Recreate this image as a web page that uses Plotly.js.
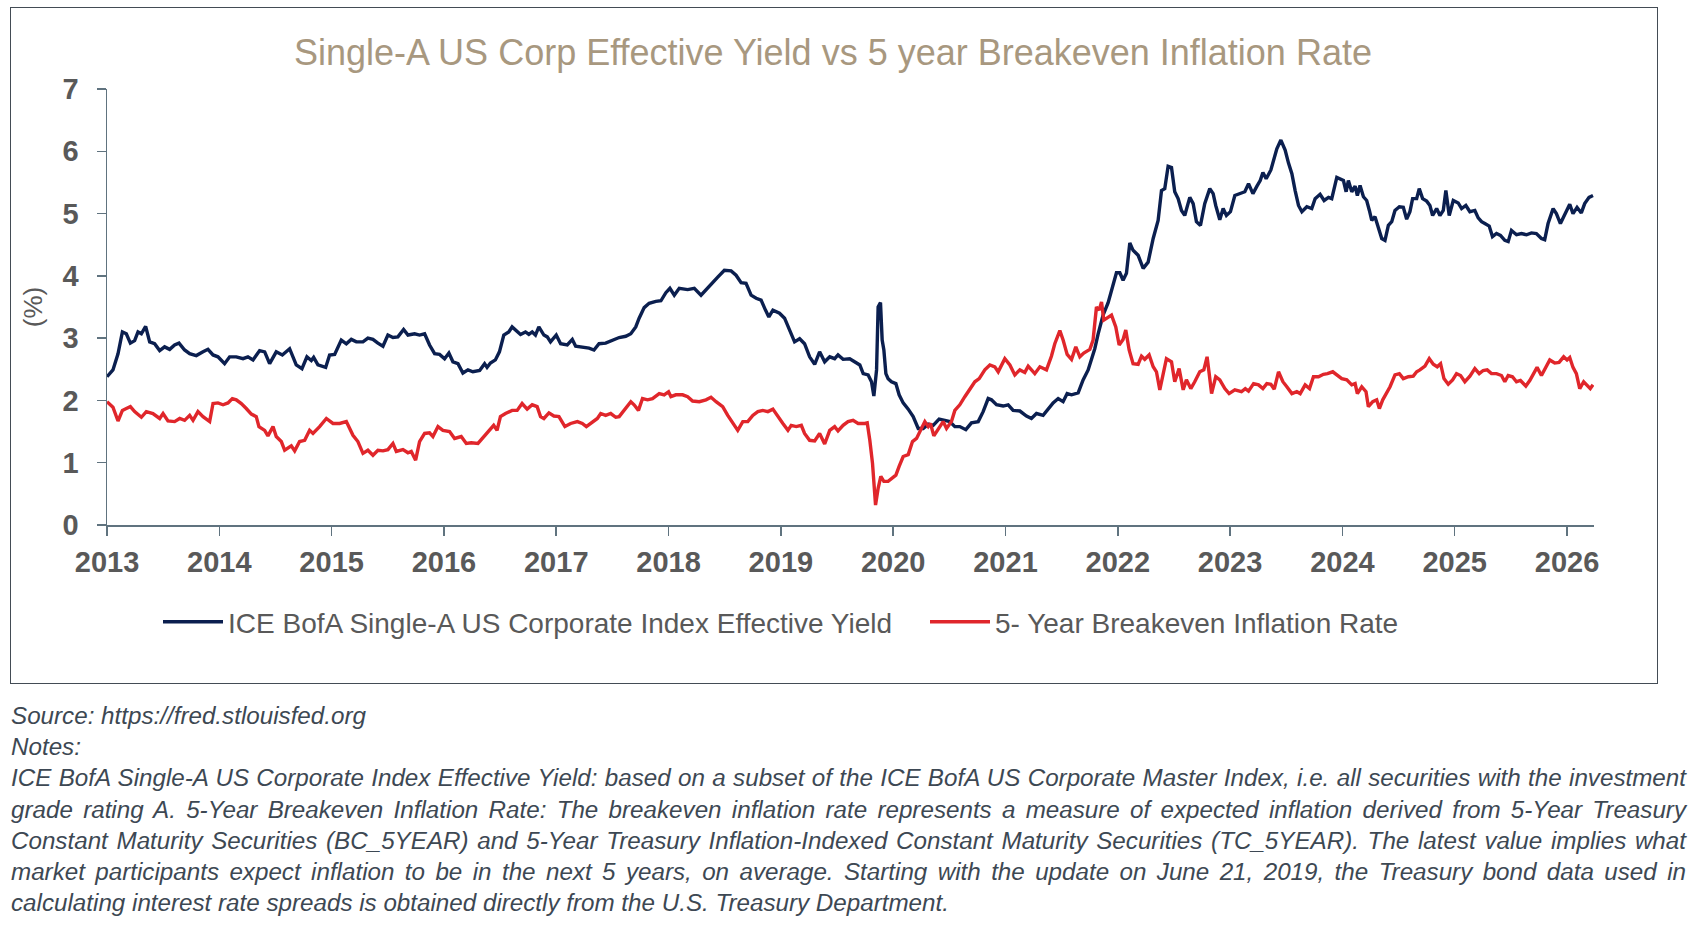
<!DOCTYPE html>
<html>
<head>
<meta charset="utf-8">
<script src="https://cdn.plot.ly/plotly-3.0.1.min.js"></script>
<style>
  html, body { margin: 0; padding: 0; background: #ffffff; }
  #page { position: relative; width: 1698px; height: 926px; overflow: hidden; background: #fff; }
  #frame { position: absolute; left: 10px; top: 7px; width: 1646px; height: 675px; border: 1.5px solid #434c55; box-sizing: content-box; }
  #chart { position: absolute; left: 0; top: 0; width: 1698px; height: 926px; }
  #notes { position: absolute; left: 11px; top: 700px; width: 1675px; font-family: "Liberation Sans", Arial, sans-serif; font-style: italic; font-size: 24.2px; line-height: 31.2px; color: #3d4853; }
  #notes .j { text-align: justify; text-align-last: justify; white-space: nowrap; }
  #notes .l { text-align: left; white-space: nowrap; }
</style>
</head>
<body>
<div id="page">
  <div id="frame"></div>
  <div id="chart"></div>
  <div id="notes"></div>
</div>
<script>
// ---- Data (decimal year, percent) ----
const yieldName = "ICE BofA Single-A US Corporate Index Effective Yield";
const beiName = "5- Year Breakeven Inflation Rate";
const chartTitle = "Single-A US Corp Effective Yield vs 5 year Breakeven Inflation Rate";
const yTitle = "(%)";
const yearTicks = [2013, 2014, 2015, 2016, 2017, 2018, 2019, 2020, 2021, 2022, 2023, 2024, 2025, 2026];
const yearLabels = ["2013", "2014", "2015", "2016", "2017", "2018", "2019", "2020", "2021", "2022", "2023", "2024", "2025", "2026"];

const yieldX = [
2013.000,2013.053,2013.098,2013.137,2013.172,2013.208,2013.246,2013.276,2013.306,2013.344,2013.380,2013.424,2013.469,2013.513,2013.558,2013.602,2013.641,2013.691,2013.736,2013.795,2013.855,2013.899,2013.944,2013.988,
2014.047,2014.092,2014.151,2014.211,2014.255,2014.300,2014.359,2014.404,2014.448,2014.507,2014.561,2014.626,2014.685,2014.736,2014.780,2014.819,2014.840,2014.878,2014.947,2014.982,
2015.027,2015.086,2015.131,2015.175,2015.220,2015.279,2015.323,2015.368,2015.412,2015.457,2015.501,2015.546,2015.590,2015.641,2015.680,2015.739,2015.783,2015.828,2015.872,2015.917,2015.961,
2016.006,2016.044,2016.080,2016.125,2016.169,2016.214,2016.258,2016.318,2016.362,2016.384,2016.414,2016.458,2016.494,2016.533,2016.577,2016.607,2016.652,2016.682,2016.726,2016.756,2016.786,2016.815,2016.845,2016.890,2016.920,2016.949,
2017.000,2017.039,2017.098,2017.143,2017.173,2017.232,2017.292,2017.336,2017.381,2017.440,2017.500,2017.560,2017.619,2017.664,2017.708,2017.738,2017.783,2017.827,2017.887,2017.932,2017.976,
2018.012,2018.051,2018.095,2018.170,2018.229,2018.289,2018.333,2018.393,2018.438,2018.497,2018.557,2018.601,2018.646,2018.690,2018.735,2018.780,2018.824,2018.863,2018.893,2018.929,2018.988,
2019.033,2019.077,2019.122,2019.167,2019.211,2019.256,2019.301,2019.345,2019.390,2019.435,2019.479,2019.509,2019.554,2019.613,2019.673,2019.703,2019.733,2019.777,2019.807,2019.828,2019.852,2019.866,2019.887,2019.902,2019.917,2019.935,2019.955,2019.985,
2020.024,2020.053,2020.089,2020.134,2020.178,2020.223,2020.267,2020.312,2020.356,2020.409,2020.460,2020.504,2020.549,2020.593,2020.647,2020.697,2020.757,2020.801,2020.846,2020.875,2020.920,2020.979,
2021.024,2021.068,2021.128,2021.187,2021.231,2021.276,2021.335,2021.380,2021.424,2021.469,2021.513,2021.549,2021.588,2021.647,2021.691,2021.736,2021.766,2021.795,2021.825,2021.869,2021.914,2021.958,2021.988,
2022.018,2022.047,2022.077,2022.107,2022.136,2022.181,2022.226,2022.270,2022.315,2022.359,2022.389,2022.418,2022.448,2022.478,2022.507,2022.537,2022.567,2022.596,2022.641,2022.671,2022.700,2022.736,2022.774,2022.819,2022.849,2022.872,2022.908,2022.938,2022.967,
2023.003,2023.042,2023.086,2023.131,2023.164,2023.203,2023.239,2023.268,2023.292,2023.321,2023.363,2023.387,2023.416,2023.452,2023.490,2023.520,2023.550,2023.579,2023.609,2023.639,2023.683,2023.727,2023.757,2023.801,2023.837,2023.876,2023.905,2023.950,2023.979,
2024.009,2024.033,2024.053,2024.083,2024.113,2024.133,2024.157,2024.187,2024.216,2024.240,2024.261,2024.290,2024.320,2024.350,2024.379,2024.409,2024.439,2024.468,2024.507,2024.542,2024.572,2024.601,2024.625,2024.661,2024.684,2024.714,2024.750,2024.779,2024.803,2024.839,2024.868,2024.898,2024.921,2024.951,2024.987,
2025.031,2025.061,2025.099,2025.135,2025.179,2025.209,2025.239,2025.268,2025.307,2025.336,2025.372,2025.407,2025.446,2025.476,2025.505,2025.550,2025.594,2025.639,2025.683,2025.727,2025.772,2025.801,2025.831,2025.876,2025.905,2025.941,2025.979,
2026.024,2026.053,2026.089,2026.127,2026.157,2026.196,2026.231
];
const yieldY = [
2.38,2.49,2.75,3.10,3.07,2.92,2.96,3.10,3.07,3.19,2.94,2.91,2.80,2.86,2.82,2.89,2.92,2.81,2.75,2.72,2.78,2.82,2.73,2.70,
2.59,2.70,2.70,2.67,2.70,2.65,2.80,2.78,2.59,2.78,2.73,2.83,2.57,2.51,2.70,2.64,2.69,2.57,2.53,2.73,
2.74,2.97,2.91,2.98,2.94,2.94,3.00,2.98,2.92,2.87,3.05,3.01,3.02,3.14,3.05,3.07,3.05,3.07,2.89,2.75,2.74,
2.67,2.76,2.62,2.59,2.44,2.49,2.46,2.48,2.59,2.53,2.60,2.65,2.78,3.05,3.10,3.18,3.10,3.06,3.10,3.06,3.10,3.05,3.18,3.05,3.02,2.94,
3.05,2.91,2.89,2.98,2.87,2.86,2.84,2.81,2.91,2.92,2.97,3.01,3.03,3.07,3.18,3.32,3.49,3.56,3.59,3.60,3.73,
3.80,3.69,3.80,3.78,3.80,3.69,3.77,3.89,3.98,4.09,4.08,4.01,3.89,3.88,3.69,3.64,3.61,3.45,3.34,3.45,3.40,
3.32,3.13,2.94,2.99,2.91,2.70,2.58,2.78,2.62,2.70,2.67,2.73,2.66,2.67,2.60,2.57,2.43,2.41,2.30,2.07,2.49,3.50,3.57,2.97,2.81,2.43,2.35,2.30,
2.27,2.09,1.96,1.86,1.74,1.55,1.55,1.62,1.60,1.70,1.68,1.66,1.58,1.58,1.53,1.64,1.66,1.82,2.03,2.01,1.93,1.91,
1.93,1.84,1.83,1.75,1.71,1.79,1.76,1.87,1.96,2.03,1.98,2.11,2.09,2.12,2.33,2.49,2.65,2.83,3.07,3.37,3.57,3.88,4.05,
4.05,3.93,4.04,4.53,4.41,4.33,4.12,4.22,4.60,4.89,5.37,5.40,5.76,5.74,5.35,5.24,5.05,4.97,5.26,5.16,4.87,4.81,5.16,5.40,5.32,5.13,4.90,5.08,4.97,
5.03,5.29,5.32,5.35,5.48,5.32,5.44,5.53,5.66,5.56,5.70,5.88,6.04,6.18,6.02,5.81,5.64,5.37,5.13,5.03,5.11,5.08,5.24,5.31,5.21,5.26,5.24,5.58,5.56,
5.53,5.35,5.53,5.35,5.44,5.29,5.45,5.27,5.21,5.05,4.89,4.95,4.79,4.60,4.57,4.81,4.87,5.05,5.11,5.10,4.91,5.03,5.24,5.24,5.40,5.24,5.20,5.13,4.97,5.08,4.97,5.05,5.37,4.97,5.21,
5.17,5.08,5.13,5.03,5.05,4.93,4.87,4.84,4.80,4.63,4.68,4.65,4.57,4.55,4.73,4.66,4.68,4.66,4.69,4.68,4.60,4.58,4.84,5.08,5.00,4.84,4.97,
5.15,5.00,5.10,5.01,5.16,5.26,5.29
];

const beiX = [
2013.000,2013.053,2013.098,2013.137,2013.172,2013.208,2013.246,2013.306,2013.350,2013.409,2013.469,2013.499,2013.543,2013.602,2013.647,2013.691,2013.736,2013.766,2013.810,2013.855,2013.914,2013.944,2013.988,
2014.033,2014.077,2014.116,2014.151,2014.196,2014.240,2014.285,2014.329,2014.353,2014.404,2014.433,2014.478,2014.507,2014.552,2014.582,2014.641,2014.671,2014.715,2014.760,2014.804,2014.834,2014.893,2014.953,
2015.012,2015.071,2015.131,2015.190,2015.234,2015.279,2015.323,2015.368,2015.412,2015.457,2015.501,2015.546,2015.576,2015.635,2015.680,2015.709,2015.748,2015.783,2015.828,2015.872,2015.902,2015.947,2015.991,
2016.050,2016.095,2016.154,2016.199,2016.243,2016.303,2016.354,2016.399,2016.443,2016.473,2016.503,2016.548,2016.577,2016.607,2016.652,2016.696,2016.741,2016.786,2016.830,2016.860,2016.890,2016.935,2016.979,
2017.024,2017.077,2017.128,2017.188,2017.232,2017.268,2017.321,2017.366,2017.396,2017.440,2017.485,2017.530,2017.560,2017.619,2017.664,2017.693,2017.732,2017.768,2017.813,2017.857,2017.917,2017.961,
2018.000,2018.021,2018.065,2018.125,2018.170,2018.214,2018.274,2018.333,2018.378,2018.423,2018.482,2018.527,2018.571,2018.616,2018.661,2018.705,2018.750,2018.795,2018.839,2018.884,2018.929,2018.973,
2019.018,2019.063,2019.092,2019.137,2019.182,2019.211,2019.256,2019.301,2019.345,2019.390,2019.435,2019.479,2019.509,2019.554,2019.598,2019.643,2019.688,2019.748,2019.769,2019.792,2019.816,2019.843,2019.866,2019.890,2019.917,2019.955,2019.985,
2020.024,2020.053,2020.089,2020.134,2020.172,2020.208,2020.243,2020.282,2020.312,2020.332,2020.362,2020.401,2020.445,2020.475,2020.519,2020.549,2020.593,2020.638,2020.682,2020.727,2020.766,2020.816,2020.861,2020.905,2020.935,2020.994,
2021.039,2021.083,2021.128,2021.172,2021.202,2021.261,2021.306,2021.365,2021.409,2021.439,2021.484,2021.513,2021.549,2021.588,2021.626,2021.662,2021.697,2021.751,2021.780,2021.810,2021.834,2021.855,2021.875,2021.914,2021.944,2021.982,
2022.012,2022.047,2022.071,2022.101,2022.136,2022.181,2022.211,2022.240,2022.279,2022.315,2022.344,2022.374,2022.404,2022.433,2022.478,2022.507,2022.546,2022.582,2022.611,2022.650,2022.685,2022.730,2022.766,2022.795,2022.813,2022.835,2022.872,2022.908,2022.953,2022.991,
2023.042,2023.101,2023.135,2023.164,2023.209,2023.253,2023.292,2023.327,2023.363,2023.393,2023.431,2023.470,2023.505,2023.550,2023.594,2023.624,2023.668,2023.707,2023.742,2023.787,2023.831,2023.867,2023.914,2023.956,2023.994,
2024.039,2024.083,2024.113,2024.133,2024.172,2024.210,2024.231,2024.270,2024.305,2024.329,2024.359,2024.394,2024.424,2024.468,2024.507,2024.542,2024.587,2024.631,2024.661,2024.690,2024.735,2024.773,2024.809,2024.844,2024.874,2024.904,2024.942,2024.981,
2025.016,2025.052,2025.090,2025.135,2025.179,2025.218,2025.253,2025.289,2025.327,2025.372,2025.416,2025.446,2025.476,2025.514,2025.550,2025.585,2025.633,2025.668,2025.704,2025.733,2025.772,2025.810,2025.846,2025.890,2025.929,2025.970,
2026.000,2026.024,2026.053,2026.083,2026.113,2026.148,2026.178,2026.207,2026.231
];
const beiY = [
1.98,1.89,1.67,1.84,1.87,1.90,1.82,1.73,1.82,1.79,1.71,1.79,1.67,1.66,1.71,1.68,1.76,1.68,1.82,1.74,1.66,1.95,1.96,
1.93,1.96,2.03,2.01,1.95,1.87,1.78,1.74,1.58,1.52,1.43,1.58,1.42,1.34,1.20,1.27,1.19,1.34,1.36,1.52,1.47,1.58,1.71,
1.63,1.63,1.66,1.44,1.34,1.15,1.20,1.12,1.20,1.19,1.21,1.31,1.18,1.21,1.16,1.18,1.04,1.34,1.47,1.48,1.42,1.58,1.52,
1.50,1.39,1.42,1.31,1.32,1.31,1.42,1.52,1.60,1.52,1.74,1.79,1.82,1.84,1.84,1.95,1.86,1.93,1.90,1.74,1.71,1.80,1.75,
1.74,1.58,1.63,1.66,1.63,1.58,1.66,1.71,1.79,1.76,1.79,1.73,1.74,1.87,1.98,1.93,1.84,2.03,2.01,2.03,2.11,2.09,
2.14,2.06,2.09,2.09,2.06,1.99,1.98,2.01,2.05,1.98,1.90,1.76,1.63,1.52,1.66,1.66,1.76,1.82,1.84,1.82,1.86,1.74,
1.63,1.52,1.60,1.58,1.60,1.47,1.36,1.35,1.47,1.30,1.52,1.58,1.51,1.60,1.66,1.68,1.63,1.63,1.64,1.36,0.99,0.32,0.59,0.78,0.70,0.70,0.75,
0.80,0.94,1.10,1.13,1.34,1.39,1.52,1.66,1.58,1.63,1.43,1.55,1.66,1.55,1.66,1.84,1.93,2.06,2.19,2.30,2.35,2.49,2.57,2.54,2.46,2.67,
2.57,2.41,2.49,2.45,2.55,2.43,2.54,2.49,2.71,2.91,3.12,2.97,2.74,2.66,2.86,2.70,2.76,2.82,2.97,3.50,3.45,3.58,3.29,3.33,3.37,3.18,
2.89,2.98,3.13,2.81,2.59,2.58,2.71,2.66,2.73,2.54,2.46,2.17,2.43,2.67,2.62,2.30,2.51,2.17,2.33,2.19,2.30,2.46,2.49,2.70,2.44,2.11,2.38,2.33,2.19,2.11,
2.17,2.14,2.19,2.15,2.27,2.25,2.19,2.27,2.26,2.18,2.46,2.30,2.22,2.11,2.14,2.11,2.25,2.19,2.38,2.38,2.42,2.43,2.46,2.41,2.35,
2.33,2.25,2.27,2.11,2.22,2.14,1.90,1.98,2.01,1.87,2.01,2.11,2.22,2.41,2.43,2.35,2.38,2.39,2.46,2.49,2.55,2.67,2.58,2.54,2.59,2.35,2.26,2.33,
2.43,2.40,2.30,2.39,2.51,2.43,2.48,2.49,2.43,2.43,2.40,2.30,2.40,2.38,2.30,2.32,2.23,2.32,2.43,2.53,2.40,2.53,2.65,2.60,2.61,2.70,
2.65,2.69,2.53,2.43,2.19,2.30,2.25,2.19,2.25
];

const sourceLine = "Source: https://fred.stlouisfed.org";
const notesLabel = "Notes:";
const noteLines = [
  "ICE BofA Single-A US Corporate Index Effective Yield: based on a subset of the ICE BofA US Corporate Master Index, i.e. all securities with the investment",
  "grade rating A. 5-Year Breakeven Inflation Rate: The breakeven inflation rate represents a measure of expected inflation derived from 5-Year Treasury",
  "Constant Maturity Securities (BC_5YEAR) and 5-Year Treasury Inflation-Indexed Constant Maturity Securities (TC_5YEAR). The latest value implies what",
  "market participants expect inflation to be in the next 5 years, on average. Starting with the update on June 21, 2019, the Treasury bond data used in",
  "calculating interest rate spreads is obtained directly from the U.S. Treasury Department."
];

// ---- Chart ----
const FONT = '"Liberation Sans", Arial, sans-serif';
const AXIS_COLOR = '#60737f';
const LABEL_COLOR = '#595959';
const legendFont = { family: FONT, size: 28, color: LABEL_COLOR };

const traces = [
  { x: yieldX, y: yieldY, type: 'scatter', mode: 'lines', name: yieldName,
    line: { color: '#0b1f4f', width: 3.4 }, legend: 'legend' },
  { x: beiX, y: beiY, type: 'scatter', mode: 'lines', name: beiName,
    line: { color: '#e0262b', width: 3.4 }, legend: 'legend2' }
];

const layout = {
  width: 1698, height: 926,
  margin: { l: 107, r: 104, t: 89, b: 401, pad: 0 },
  paper_bgcolor: 'rgba(0,0,0,0)',
  plot_bgcolor: 'rgba(0,0,0,0)',
  font: { family: FONT, color: LABEL_COLOR },
  title: {
    text: chartTitle,
    font: { family: FONT, size: 36, color: '#a8987f' },
    x: 833 / 1698, xanchor: 'center', xref: 'container',
    y: 1 - 52 / 926, yanchor: 'middle', yref: 'container'
  },
  xaxis: {
    type: 'linear',
    range: [2013, 2026.24],
    tickvals: yearTicks, ticktext: yearLabels,
    ticks: 'outside', ticklen: 9, tickwidth: 1.5, tickcolor: AXIS_COLOR,
    showline: true, linecolor: AXIS_COLOR, linewidth: 1.5,
    showgrid: false, zeroline: false,
    ticklabelstandoff: 2,
    tickfont: { family: FONT, size: 29, color: LABEL_COLOR, weight: 'bold' }
  },
  yaxis: {
    range: [0, 7], tickmode: 'linear', tick0: 0, dtick: 1,
    ticks: 'outside', ticklen: 9, tickwidth: 1.5, tickcolor: AXIS_COLOR,
    showline: true, linecolor: AXIS_COLOR, linewidth: 1.5,
    showgrid: false, zeroline: false,
    ticklabelstandoff: 12,
    tickfont: { family: FONT, size: 29, color: LABEL_COLOR, weight: 'bold' },
    title: { text: yTitle, font: { family: FONT, size: 26, color: LABEL_COLOR }, standoff: 12 }
  },
  showlegend: true,
  legend: {
    orientation: 'h',
    x: (158 - 107) / 1487, xanchor: 'left',
    y: -(622 - 525) / 436, yanchor: 'middle',
    font: legendFont, itemwidth: 60,
    bgcolor: 'rgba(0,0,0,0)', borderwidth: 0
  },
  legend2: {
    orientation: 'h',
    x: (925 - 107) / 1487, xanchor: 'left',
    y: -(622 - 525) / 436, yanchor: 'middle',
    font: legendFont, itemwidth: 60,
    bgcolor: 'rgba(0,0,0,0)', borderwidth: 0
  }
};

Plotly.newPlot('chart', traces, layout, { displayModeBar: false, staticPlot: true });

// ---- Notes text below the chart frame ----
const notes = document.getElementById('notes');
function addLine(text, cls) {
  const d = document.createElement('div');
  d.className = cls;
  d.textContent = text;
  notes.appendChild(d);
}
addLine(sourceLine, 'l');
addLine(notesLabel, 'l');
noteLines.forEach((t, i) => addLine(t, i < noteLines.length - 1 ? 'j' : 'l'));
</script>
</body>
</html>
